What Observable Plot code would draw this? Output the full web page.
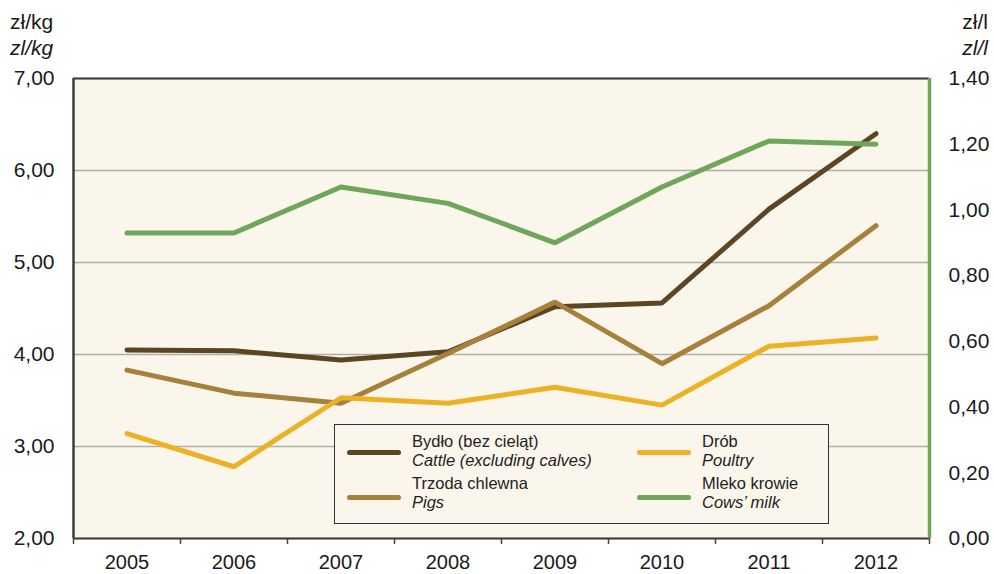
<!DOCTYPE html>
<html>
<head>
<meta charset="utf-8">
<script src="https://cdn.jsdelivr.net/npm/d3@7"></script>
<script src="https://cdn.jsdelivr.net/npm/@observablehq/plot@0.6"></script>
<style>
  body { margin: 0; background: #fff; font-family: "Liberation Sans", Arial, sans-serif; }
  #wrap { position: relative; width: 994px; height: 574px; }
  .unit { position: absolute; font-size: 21px; color: #1a1a1a; line-height: 1; }
  #legend { position: absolute; left: 334px; top: 424px; width: 495px; height: 100px;
    border: 1.5px solid #333; background: #FAF6EC; box-sizing: border-box; }
  .li { position: absolute; font-size: 16.5px; color: #222; line-height: 18px; height: 18px; white-space: nowrap; }
  .sw { position: absolute; width: 54px; height: 5px; border-radius: 3px; }
</style>
</head>
<body>
<div id="wrap">
  <div class="unit" style="left:10px;top:11px;">zł/kg</div>
  <div class="unit" style="left:10px;top:37px;font-style:italic;">zl/kg</div>
  <div class="unit" style="right:6px;top:11px;">zł/l</div>
  <div class="unit" style="right:6px;top:37px;font-style:italic;">zl/l</div>
</div>
<script>
const years = [2005, 2006, 2007, 2008, 2009, 2010, 2011, 2012];
const cattle = [4.05, 4.04, 3.94, 4.03, 4.52, 4.56, 5.58, 6.40];
const pigs = [3.83, 3.58, 3.47, 4.01, 4.57, 3.90, 4.53, 5.40];
const poultry = [3.14, 2.78, 3.53, 3.47, 3.645, 3.45, 4.09, 4.18];
const milk = [0.93, 0.93, 1.07, 1.02, 0.90, 1.07, 1.21, 1.20];
const leftTicks = [2, 3, 4, 5, 6, 7];
const rightTicks = [0, 0.2, 0.4, 0.6, 0.8, 1.0, 1.2, 1.4];

const seriesNames = ["cattle", "pigs", "poultry", "milk"];
const colors = { cattle: "#5B4522", pigs: "#A7803B", poultry: "#EBB226", milk: "#6FA65A" };
const labels = {
  cattle: ["Bydło (bez cieląt)", "Cattle (excluding calves)"],
  pigs: ["Trzoda chlewna", "Pigs"],
  poultry: ["Drób", "Poultry"],
  milk: ["Mleko krowie", "Cows’ milk"]
};

// map right-axis (zł/l) values onto left scale domain [2,7]
const r2l = v => 2 + v * 5 / 1.4;
const l2r = v => (v - 2) * 1.4 / 5;

const rows = [];
years.forEach((y, i) => {
  rows.push({ s: "cattle", year: y, v: cattle[i] });
  rows.push({ s: "pigs", year: y, v: pigs[i] });
  rows.push({ s: "poultry", year: y, v: poultry[i] });
  rows.push({ s: "milk", year: y, v: r2l(milk[i]) });
});
const bounds = years.map(y => y - 0.5).concat([years[years.length - 1] + 0.5]);

const chart = Plot.plot({
  width: 994,
  height: 574,
  marginLeft: 73,
  marginRight: 65,
  marginTop: 78,
  marginBottom: 36,
  style: { fontFamily: "'Liberation Sans', Arial, sans-serif", fontSize: "21px", color: "#1a1a1a", background: "transparent" },
  x: { type: "linear", domain: [years[0] - 0.5, years[years.length - 1] + 0.5] },
  y: { domain: [2, 7] },
  color: { domain: seriesNames, range: seriesNames.map(s => colors[s]) },
  marks: [
    Plot.frame({ fill: "#FAF6EC", stroke: null }),
    Plot.ruleY(leftTicks, { stroke: "#B1AEA7", strokeWidth: 1.5 }),
    Plot.axisY(leftTicks, { anchor: "left", tickSize: 0, tickPadding: 19, tickFormat: d => d.toFixed(2).replace(".", ","), label: null, fontSize: 21 }),
    Plot.axisY(rightTicks.map(r2l), { anchor: "right", tickSize: 0, tickPadding: 19, tickFormat: d => l2r(d).toFixed(2).replace(".", ","), label: null, fontSize: 21 }),
    Plot.axisX(years, { anchor: "bottom", tickSize: 0, tickPadding: 16, tickFormat: d => String(d), label: null, fontSize: 20 }),
    Plot.axisX(bounds, { anchor: "bottom", tickSize: 6, tickFormat: () => "", label: null, stroke: "#444", strokeWidth: 1.5 }),
    Plot.lineY(rows, { x: "year", y: "v", z: "s", stroke: "s", strokeWidth: 5, strokeLinecap: "round", strokeLinejoin: "miter" }),
    Plot.ruleY([2], { stroke: "#3c3c3c", strokeWidth: 2 }),
    Plot.ruleY([7], { stroke: "#3c3c3c", strokeWidth: 2 }),
    Plot.ruleX([years[0] - 0.5], { stroke: "#3c3c3c", strokeWidth: 2.5 }),
    Plot.ruleX([years[years.length - 1] + 0.5], { stroke: "#6FA65A", strokeWidth: 3.5 })
  ]
});
const wrap = document.getElementById("wrap");
chart.style.position = "absolute";
chart.style.left = "0";
chart.style.top = "0";
wrap.appendChild(chart);

// legend (HTML overlay)
const lg = document.createElement("div");
lg.id = "legend";
const swPos = { cattle: [12, 25], pigs: [12, 70], poultry: [302, 25], milk: [302, 70] };
const txPos = { cattle: [77, 7], pigs: [77, 49], poultry: [367, 7], milk: [367, 49] };
seriesNames.forEach(s => {
  const sw = document.createElement("div");
  sw.className = "sw";
  sw.style.left = swPos[s][0] + "px";
  sw.style.top = swPos[s][1] + "px";
  sw.style.background = colors[s];
  lg.appendChild(sw);
  labels[s].forEach((txt, k) => {
    const t = document.createElement("div");
    t.className = "li";
    t.style.left = txPos[s][0] + "px";
    t.style.top = (txPos[s][1] + k * 19) + "px";
    if (k === 1) t.style.fontStyle = "italic";
    t.textContent = txt;
    lg.appendChild(t);
  });
});
wrap.appendChild(lg);
</script>
</body>
</html>
